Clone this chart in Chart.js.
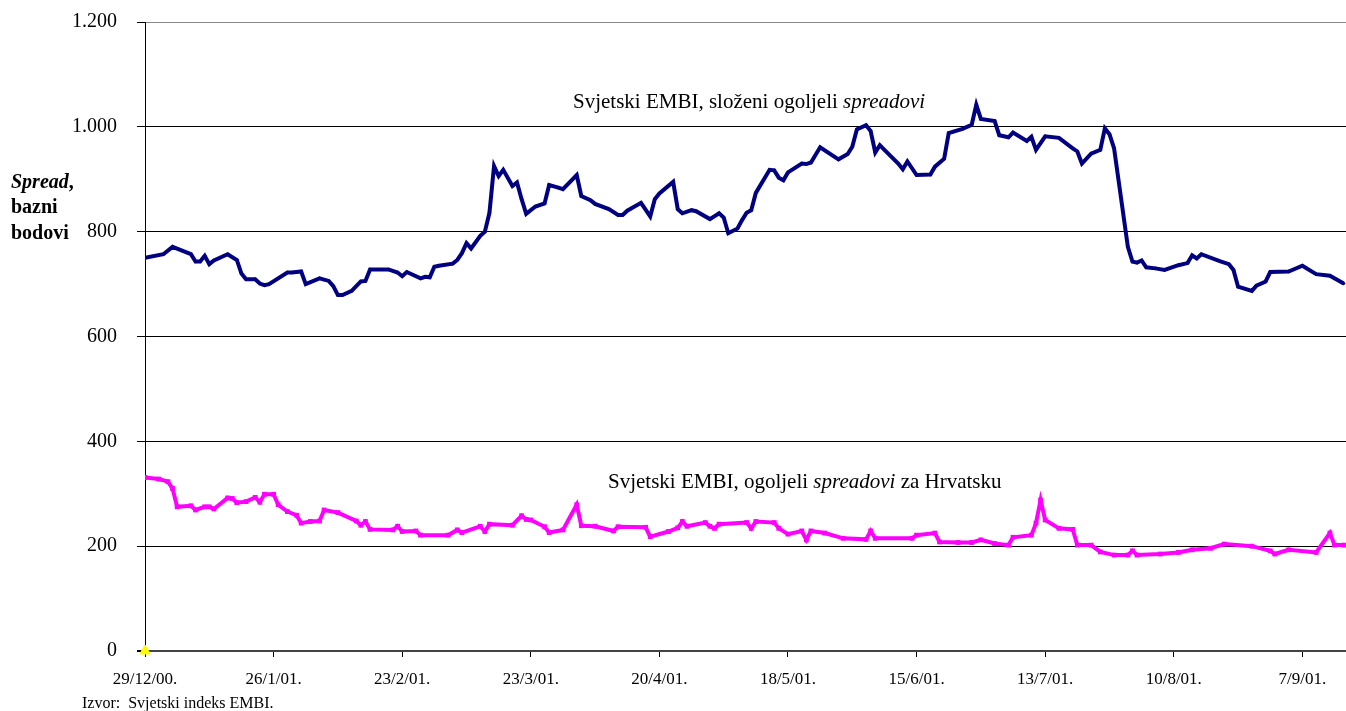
<!DOCTYPE html>
<html>
<head>
<meta charset="utf-8">
<script src="https://cdn.jsdelivr.net/npm/chart.js@4/dist/chart.umd.min.js"></script>
<style>
html,body{margin:0;padding:0;background:#fff;}
#wrap{width:1346px;height:711px;}
</style>
</head>
<body>
<div id="wrap"><canvas id="c" width="1346" height="711"></canvas></div>
<script>
// x = days since 29/12/2000
const tickDays   = [0, 28, 56, 84, 112, 140, 168, 196, 224, 252];
const tickLabels = ['29/12/00.', '26/1/01.', '23/2/01.', '23/3/01.', '20/4/01.', '18/5/01.', '15/6/01.', '13/7/01.', '10/8/01.', '7/9/01.'];
const yTicks = [0, 200, 400, 600, 800, 1000, 1200];

const navyDays = [0,4,6,10,11,12,13,14,15,18,20,21,22,24,25,26,27,31,32,34,35,38,40,41,42,43,45,47,48,49,53,55,56,57,60,61,62,63,64,67,68,69,70,71,73,74,75,76,77,78,80,81,82,83,85,87,88,90,91,94,95,97,98,101,103,104,105,108,110,111,112,115,116,117,119,120,123,125,126,127,129,130,131,132,133,136,137,138,139,140,143,144,145,147,151,153,154,155,157,158,159,160,161,164,165,166,168,171,172,174,175,178,180,181,182,185,186,188,189,192,193,194,196,199,202,203,204,206,208,209,210,211,214,215,216,217,218,220,222,225,227,228,229,230,234,236,237,238,241,242,244,245,249,252,255,258,261];
const navyValues = [750,757,771,757,743,743,754,738,745,757,746,720,709,709,701,698,700,722,722,724,700,711,706,696,679,679,687,705,706,728,728,722,715,723,711,714,713,733,735,739,746,759,778,768,792,800,836,925,906,918,887,894,862,834,848,854,889,884,881,908,868,860,853,843,832,832,840,855,829,862,873,895,843,835,841,839,824,835,827,797,806,822,836,841,874,918,917,903,898,913,930,929,932,961,938,948,962,995,1003,992,951,965,956,930,919,934,908,909,924,939,988,996,1004,1042,1015,1011,984,980,989,973,981,956,982,979,959,953,930,949,956,997,986,959,771,743,741,745,732,730,727,736,740,755,749,757,744,738,727,695,687,697,705,723,724,735,719,716,701];

const pinkDays = [0,3,5,6,7,10,11,13,14,15,18,19,20,22,24,25,26,28,29,31,33,34,36,38,39,42,46,47,48,49,54,55,56,59,60,66,68,69,73,74,75,80,82,83,84,87,88,91,94,95,98,102,103,109,110,114,116,117,118,122,123,124,125,131,132,133,137,138,140,143,144,145,148,152,157,158,159,167,168,172,173,177,180,182,185,188,189,193,194,195,196,199,202,203,206,208,211,214,215,216,221,225,228,232,235,241,245,246,249,255,258,259,261];
const pinkValues = [331,328,323,310,275,277,269,275,275,271,292,291,283,285,293,284,299,299,279,266,259,244,247,248,269,264,248,240,247,232,231,238,228,229,221,221,231,226,238,228,242,240,258,251,250,237,226,231,279,239,238,229,237,236,218,228,235,247,238,245,238,234,242,245,234,247,245,234,223,229,212,229,225,215,213,229,215,215,221,225,208,207,207,212,205,202,217,221,244,288,250,234,232,202,202,189,183,183,191,183,185,188,193,196,204,200,191,185,193,188,225,202,202];

const startDay = [0];
const startValue = [0];

function toPts(xs, ys){ return xs.map((x,i)=>({x:x, y:ys[i]})); }
function fmtThousands(v){ return String(v).replace(/\B(?=(\d{3})+(?!\d))/g, '.'); }

const SERIF = "'Liberation Serif','Times New Roman',serif";

const textPlugin = {
  id: 'texts',
  afterDraw(chart){
    const ctx = chart.ctx;
    ctx.save();
    ctx.fillStyle = '#000';
    ctx.textBaseline = 'middle';
    function runs(parts, x, y){
      let cx = x;
      for (const p of parts){
        ctx.font = p.font;
        ctx.fillText(p.t, cx, y);
        cx += ctx.measureText(p.t).width;
      }
    }
    const n = "21px " + SERIF, it = "italic 21px " + SERIF;
    runs([{t:'Svjetski EMBI, složeni ogoljeli ', font:n},{t:'spreadovi', font:it}], 573, 102);
    runs([{t:'Svjetski EMBI, ogoljeli ', font:n},{t:'spreadovi', font:it},{t:' za Hrvatsku', font:n}], 608, 482);
    // axis title
    runs([{t:'Spread', font:"italic bold 20px " + SERIF},{t:',', font:"bold 20px " + SERIF}], 11, 183);
    runs([{t:'bazni', font:"bold 20px " + SERIF}], 11, 208);
    runs([{t:'bodovi', font:"bold 20px " + SERIF}], 11, 234);
    // source
    runs([{t:'Izvor:  Svjetski indeks EMBI.', font:"16px " + SERIF}], 82, 704);
    ctx.restore();
  }
};

new Chart(document.getElementById('c'), {
  type: 'line',
  data: {
    datasets: [
      {
        data: toPts(navyDays, navyValues),
        borderColor: '#000080', backgroundColor: '#000080',
        borderWidth: 4, pointRadius: 2, pointStyle: 'rectRot',
        pointBorderWidth: 0, tension: 0
      },
      {
        data: toPts(pinkDays, pinkValues),
        borderColor: '#FF00FF', backgroundColor: '#FF00FF',
        borderWidth: 4, pointRadius: 3.4, pointStyle: 'rect',
        pointBorderWidth: 0, tension: 0
      },
      {
        data: toPts(startDay, startValue),
        showLine: false, clip: false,
        borderColor: '#FFFF00', backgroundColor: '#FFFF00',
        pointRadius: 6, pointStyle: 'triangle', pointBorderWidth: 1
      }
    ]
  },
  options: {
    responsive: false,
    animation: false,
    devicePixelRatio: 1,
    layout: { autoPadding: false, padding: { top: 22, right: 0, bottom: 0, left: 0 } },
    plugins: { legend: { display: false }, tooltip: { enabled: false } },
    scales: {
      x: {
        type: 'linear', min: 0, max: 261.5,
        afterFit(s){ s.height = 60; s.paddingLeft = 0; s.paddingRight = 0; },
        afterBuildTicks(s){ s.ticks = tickDays.map(v => ({value: v})); },
        grid: { drawOnChartArea: false, drawTicks: true, tickLength: 6, color: '#000', lineWidth: 1 },
        border: { display: true, color: '#444', width: 2 },
        ticks: {
          autoSkip: false, maxRotation: 0, padding: 12, color: '#000',
          font: { family: SERIF, size: 17 },
          callback(v){ const i = tickDays.indexOf(v); return i >= 0 ? tickLabels[i] : ''; }
        }
      },
      y: {
        min: 0, max: 1200,
        afterFit(s){ s.width = 145; s.paddingTop = 0; s.paddingBottom = 0; },
        afterBuildTicks(s){ s.ticks = yTicks.map(v => ({value: v})); },
        grid: {
          drawTicks: true, tickLength: 8,
          color(ctx){ const v = ctx.tick && ctx.tick.value; return v === 1200 ? '#888' : (v === 0 ? '#444' : '#000'); },
          lineWidth(ctx){ return ctx.tick && ctx.tick.value === 0 ? 2 : 1; },
          tickColor: '#000'
        },
        border: { display: true, color: '#000', width: 1 },
        ticks: {
          padding: 20, color: '#000',
          font: { family: SERIF, size: 20 },
          callback(v){ return fmtThousands(v); }
        }
      }
    }
  },
  plugins: [textPlugin]
});
</script>
</body>
</html>
